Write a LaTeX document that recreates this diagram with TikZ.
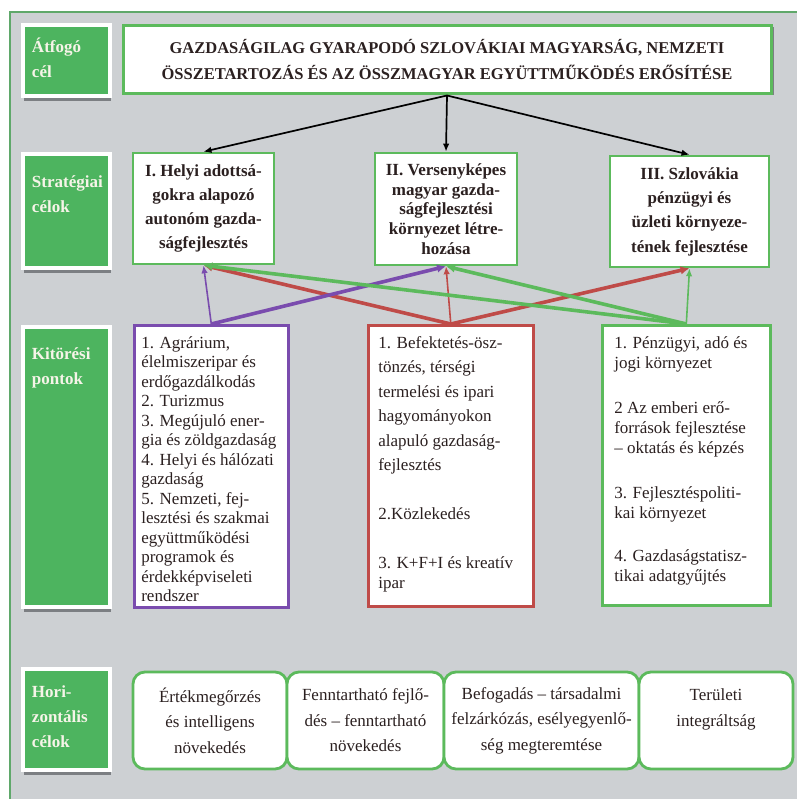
\documentclass[tikz,border=0pt]{standalone}
\usepackage{fontspec}
\setmainfont{Liberation Serif}
\usetikzlibrary{arrows.meta,shadows,calc}
\definecolor{bg}{HTML}{CDD0D3}
\definecolor{lgreen}{HTML}{4DB45F}
\definecolor{bgreen}{HTML}{5CBA5C}
\definecolor{frameg}{HTML}{5FA86A}
\definecolor{ppl}{HTML}{7A4CAE}
\definecolor{rd}{HTML}{BF4B48}
\definecolor{txt}{HTML}{2B2020}
\definecolor{shad}{HTML}{7C7F83}
\definecolor{labtxt}{HTML}{F6F4E8}
% width, height, first baseline, left indent, content
\newcommand{\tb}[5]{\parbox[c][#2][t]{#1}{\raggedright\leftskip=#4\relax\rule{0pt}{#3}#5}}
\tikzset{
  lab/.style={fill=lgreen, draw=white, line width=4pt, inner sep=0pt, anchor=north west,
    text=labtxt, font=\fontsize{17}{25}\selectfont\bfseries,
    drop shadow={shadow xshift=0.5pt, shadow yshift=-5pt, fill=shad, opacity=1}},
  sbox/.style={draw=bgreen, line width=2.6pt, fill=white, inner sep=0pt, align=center,
    text=txt},
  kbox/.style={line width=2.6pt, fill=white, inner sep=0pt, anchor=north west, text=txt},
  hbox/.style={draw=bgreen, line width=2.8pt, fill=white, inner sep=0pt, align=center,
    rounded corners=12pt, text=txt, font=\fontsize{17}{25.5}\selectfont, minimum height=97pt},
  blk/.style={line width=1.7pt, -{Latex[length=8pt,width=6.5pt]}},
  thick arr/.style={line width=3.6pt, -{Latex[length=9pt,width=8.5pt]}},
  thin arr/.style={line width=1.6pt, -{Latex[length=8pt,width=6.5pt]}}
}
\begin{document}
\begin{tikzpicture}[x=1pt,y=-1pt]
\useasboundingbox (0,0) rectangle (797,799);
\fill[bg] (10,12) rectangle (797,799);
\draw[frameg, line width=1.2pt] (10,799) -- (10,12) -- (797,12);

% row labels
\node[lab] (l1) at (21,23) {\tb{87pt}{71pt}{28pt}{9pt}{Átfogó\\cél}};
\node[lab] (l2) at (21,152) {\tb{87pt}{114pt}{34pt}{9pt}{Stratégiai\\célok}};
\node[lab] (l3) at (21,325) {\tb{87pt}{280pt}{32pt}{9pt}{Kitörési\\pontok}};
\node[lab] (l4) at (21,667) {\tb{87pt}{101pt}{28pt}{9pt}{Hori-\\zontális\\célok}};

% overall goal
\node[draw=bgreen, line width=3pt, fill=white, minimum width=648pt, minimum height=68pt,
  inner sep=0pt, align=center, text=txt, font=\fontsize{16.5}{26}\selectfont\bfseries,
  drop shadow={shadow xshift=3pt, shadow yshift=-1pt, fill=shad, opacity=1}]
  (goal) at (447,60) {GAZDASÁGILAG GYARAPODÓ SZLOVÁKIAI MAGYARSÁG, NEMZETI\\
  ÖSSZETARTOZÁS ÉS AZ ÖSSZMAGYAR EGYÜTTMŰKÖDÉS ERŐSÍTÉSE};

% strategic goals
\node[sbox, minimum width=141pt, minimum height=111pt, font=\fontsize{17}{24}\selectfont\bfseries]
  (s1) at (203.5,208.5) {I. Helyi adottsá-\\gokra alapozó\\autonóm gazda-\\ságfejlesztés};
\node[sbox, minimum width=142pt, minimum height=112pt, font=\fontsize{17}{19.6}\selectfont\bfseries]
  (s2) at (446,209) {II. Versenyképes\\magyar gazda-\\ságfejlesztési\\környezet létre-\\hozása};
\node[sbox, minimum width=159pt, minimum height=111pt, font=\fontsize{17}{24.3}\selectfont\bfseries]
  (s3) at (689.5,211.5) {III. Szlovákia\\pénzügyi és\\üzleti környeze-\\tének fejlesztése};

% breakout points
\node[kbox, draw=ppl, font=\fontsize{17}{19.5}\selectfont] (k1) at (133,324)
  {\tb{154pt}{282pt}{23pt}{7pt}{1. Agrárium,\\
  élelmiszeripar és\\
  erdőgazdálkodás\\
  2. Turizmus\\
  3. Megújuló ener-\\
  gia és zöldgazdaság\\
  4. Helyi és hálózati\\
  gazdaság\\
  5. Nemzeti, fej-\\
  lesztési és szakmai\\
  együttműködési\\
  programok és\\
  érdekképviseleti\\
  rendszer}};
\node[kbox, draw=rd, font=\fontsize{17}{19.5}\selectfont] (k2) at (367,324)
  {\tb{165pt}{281pt}{23pt}{10pt}{1. Befektetés-ösz-\\[5pt]
  tönzés, térségi\\[5pt]
  termelési és ipari\\[5pt]
  hagyományokon\\[5pt]
  alapuló gazdaság-\\[5pt]
  fejlesztés\\[29.5pt]
  2.Közlekedés\\[29.5pt]
  3. K+F+I és kreatív\\
  ipar}};
\node[kbox, draw=bgreen, font=\fontsize{17}{20}\selectfont] (k3) at (601,324)
  {\tb{168pt}{280pt}{23pt}{12pt}{1. Pénzügyi, adó és\\
  jogi környezet\\[25pt]
  2 Az emberi erő-\\
  források fejlesztése\\
  – oktatás és képzés\\[25pt]
  3. Fejlesztéspoliti-\\
  kai környezet\\[23pt]
  4. Gazdaságstatisz-\\
  tikai adatgyűjtés}};

% horizontal goals
\node[hbox, minimum width=154pt] (h1) at (210,720.5) {Értékmegőrzés\\és intelligens\\növekedés};
\node[hbox, minimum width=157pt] (h2) at (365.5,720.5) {Fenntartható fejlő-\\dés – fenntartható\\növekedés};
\node[hbox, minimum width=195pt] (h3) at (541.5,720.5) {Befogadás – társadalmi\\felzárkózás, esélyegyenlő-\\ség megteremtése};
\node[hbox, minimum width=154pt] (h4) at (716,720.5) {Területi\\integráltság\\\mbox{}};

% black arrows
\draw[blk] (goal.south) -- (s1.north);
\draw[blk] (goal.south) -- (s2.north);
\draw[blk] (goal.south) -- (s3.north);

% coloured arrows
\draw[rd, thick arr] (k2.north) -- (s1.south);
\draw[rd, thin arr] (k2.north) -- (s2.south);
\draw[rd, thick arr] (k2.north) -- (s3.south);
\draw[ppl, thin arr] (k1.north) -- (s1.south);
\draw[ppl, thick arr] (k1.north) -- (s2.south);
\draw[bgreen, thick arr] (k3.north) -- (s1.south);
\draw[bgreen, thick arr] (k3.north) -- (s2.south);
\draw[bgreen, thin arr] (k3.north) -- (s3.south);
\end{tikzpicture}
\end{document}
